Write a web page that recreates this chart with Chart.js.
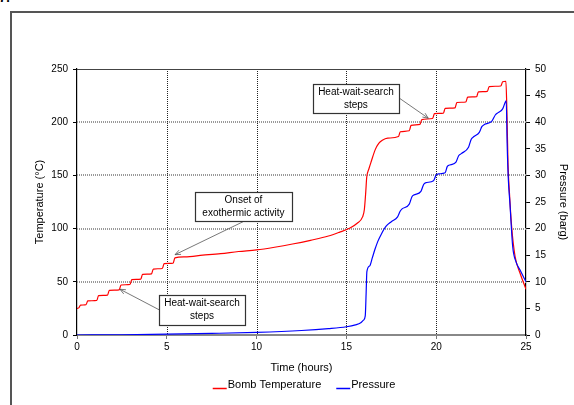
<!DOCTYPE html>
<html lang="en">
<head>
  <meta charset="UTF-8">
  <title>Bomb temperature and pressure</title>
  <script src="https://cdn.jsdelivr.net/npm/chart.js"></script>
  <style>
    body { margin: 0; background: #fff; font-family: "Liberation Sans", Arial, sans-serif; }
    .wrap { position: relative; width: 574px; height: 405px; overflow: hidden; }
    .frame { position: absolute; left: 10px; top: 11px; width: 620px; height: 420px; border-top: 2px solid #555; border-left: 2px solid #555; }
    .fig { position: absolute; left: -1px; top: -10px; font-size: 13px; font-weight: bold; }
    canvas { position: absolute; left: 0; top: 0; }
  </style>
</head>
<body>
<div class="wrap">
  <div class="frame"></div>
  <div class="fig">7.</div>
  <canvas id="bombChart" width="574" height="405"></canvas>
</div>

<script>
// time (hours) / bomb temperature (°C)
const tempHours = [0, 0.1, 0.2, 0.5, 0.6, 1.1, 1.2, 1.7, 1.8, 2.35, 2.45, 2.95, 3.05, 3.55, 3.65, 4.15, 4.25, 4.75, 4.85, 5.35, 5.45,
  6, 7, 8, 9, 10, 11, 12, 13, 14, 14.6, 15.2, 15.6, 15.9, 16.0, 16.08, 16.13, 16.25, 16.4, 16.6, 16.8, 17.0, 17.3, 17.9,
  18.0, 18.5, 18.6, 19.1, 19.2, 19.8, 19.9, 20.4, 20.5, 21.05, 21.15, 21.65, 21.75, 22.25, 22.35, 22.85, 22.95, 23.6, 23.7,
  23.88, 23.93, 24.0, 24.07, 24.2, 24.39, 24.67, 25];
const tempC = [25, 25.5, 28, 28.5, 32, 32.5, 37, 37.5, 42, 42.5, 47, 47.5, 52, 52.5, 57, 57.5, 62, 62.5, 67, 67.5, 72.5,
  73.5, 75, 76.5, 78.5, 80, 82.5, 85.5, 89, 93, 96.5, 100.5, 105, 111, 118, 135, 148, 156, 164, 174, 180, 183, 185, 186.5,
  191, 192, 197, 198, 202.5, 203.5, 208, 208.5, 213, 213.5, 218.5, 219, 223.5, 224, 228.5, 229, 233.5, 234, 238,
  238.5, 215, 160, 136, 102, 74, 58, 43];

// time (hours) / pressure (barg)
const presHours = [0, 2.5, 5, 7.5, 10, 12.5, 14, 15, 15.5, 15.8, 15.95, 16.05, 16.1, 16.14, 16.3, 16.45, 16.6, 16.75, 16.95,
  17.2, 17.5, 17.85, 18.0, 18.1, 18.5, 18.65, 18.75, 19.15, 19.3, 19.4, 19.85, 20.0, 20.15, 20.5, 20.62, 20.8, 21.1, 21.25,
  21.4, 21.8, 21.95, 22.1, 22.4, 22.55, 22.7, 23.1, 23.3, 23.45, 23.7, 23.85, 23.9, 23.95, 24.02, 24.1, 24.26, 24.45, 24.67, 25];
const presBarg = [0, 0.05, 0.15, 0.3, 0.5, 0.85, 1.2, 1.55, 1.9, 2.3, 2.8, 3.6, 8, 11.9, 13, 14.6, 16.2, 17.6, 19,
  20.4, 21.3, 22.2, 23.3, 23.7, 24.6, 26, 26.3, 27, 28.3, 28.6, 29, 30.1, 30.3, 30.5, 31.7, 32, 32.5, 33.7,
  34.1, 35.3, 36.8, 37.3, 38.1, 39.2, 39.6, 40.2, 41.4, 41.8, 42.5, 43.8, 44, 36, 29, 25, 16.6, 13.7, 12.2, 10];

const hourTicks = [0, 5, 10, 15, 20, 25];
const tempTicks = [0, 50, 100, 150, 200, 250];
const presTicks = [0, 5, 10, 15, 20, 25, 30, 35, 40, 45, 50];

// callouts: box centre in data units (hours, °C), arrow tip in data units
const notes = [
  { lines: ["Onset of", "exothermic activity"], at: [9.27, 121], w: 97, h: 29, from: "bottom", to: [5.46, 75.5] },
  { lines: ["Heat-wait-search", "steps"], at: [6.96, 23.5], w: 86, h: 30, from: "left", to: [2.39, 43] },
  { lines: ["Heat-wait-search", "steps"], at: [15.53, 222.5], w: 86, h: 29, from: "right", to: [19.56, 203.7] }
];

const FONT = '"Liberation Sans", Arial, sans-serif';

function pts(xs, ys) { return xs.map((x, i) => ({ x: x, y: ys[i] })); }

const gridLines = {
  id: "gridLines",
  beforeDatasetsDraw(chart) {
    const { ctx, chartArea: a, scales: { x, y } } = chart;
    ctx.save();
    ctx.setLineDash([1, 1]);
    ctx.lineWidth = 2;
    ctx.strokeStyle = "#999";
    tempTicks.forEach(v => {
      if (v === 0 || v === 250) return;
      const py = Math.round(y.getPixelForValue(v));
      ctx.beginPath(); ctx.moveTo(a.left, py); ctx.lineTo(a.right, py); ctx.stroke();
    });
    ctx.lineWidth = 1;
    ctx.strokeStyle = "#222";
    hourTicks.forEach(v => {
      if (v === 0 || v === 25) return;
      const px = Math.round(x.getPixelForValue(v)) + 0.5;
      ctx.beginPath(); ctx.moveTo(px, a.top); ctx.lineTo(px, a.bottom); ctx.stroke();
    });
    ctx.setLineDash([]);
    ctx.strokeStyle = "#444";
    ctx.lineWidth = 1.2;
    const top = Math.round(y.getPixelForValue(250)) + 0.5;
    ctx.beginPath(); ctx.moveTo(a.left, top); ctx.lineTo(a.right, top); ctx.stroke();
    ctx.restore();
  }
};

const callouts = {
  id: "callouts",
  afterDatasetsDraw(chart) {
    const { ctx, scales: { x, y } } = chart;
    ctx.save();
    notes.forEach(n => {
      const cx = x.getPixelForValue(n.at[0]), cy = y.getPixelForValue(n.at[1]);
      const l = Math.round(cx - n.w / 2) + 0.5, t = Math.round(cy - n.h / 2) + 0.5;
      let sx = cx, sy = cy;
      if (n.from === "bottom") sy = t + n.h;
      if (n.from === "left") sx = l;
      if (n.from === "right") sx = l + n.w;
      const tx = x.getPixelForValue(n.to[0]), ty = y.getPixelForValue(n.to[1]);
      // arrow
      ctx.strokeStyle = "#555";
      ctx.lineWidth = 0.8;
      ctx.beginPath(); ctx.moveTo(sx, sy); ctx.lineTo(tx, ty); ctx.stroke();
      const ang = Math.atan2(sy - ty, sx - tx);
      ctx.beginPath();
      ctx.moveTo(tx + 6 * Math.cos(ang + 0.4), ty + 6 * Math.sin(ang + 0.4));
      ctx.lineTo(tx, ty);
      ctx.lineTo(tx + 6 * Math.cos(ang - 0.4), ty + 6 * Math.sin(ang - 0.4));
      ctx.stroke();
      // box
      ctx.fillStyle = "#fff";
      ctx.fillRect(l, t, n.w, n.h);
      ctx.strokeStyle = "#333";
      ctx.lineWidth = 1.2;
      ctx.strokeRect(l, t, n.w, n.h);
      ctx.fillStyle = "#000";
      ctx.font = "10px " + FONT;
      ctx.textAlign = "center";
      ctx.textBaseline = "middle";
      ctx.fillText(n.lines[0], cx, cy - 6.5);
      ctx.fillText(n.lines[1], cx, cy + 6.5);
    });
    ctx.restore();
  }
};

const lineLegend = {
  id: "lineLegend",
  afterDraw(chart) {
    const { ctx } = chart;
    const sets = chart.data.datasets;
    ctx.save();
    ctx.font = "11px " + FONT;
    ctx.textBaseline = "middle";
    const widths = sets.map(d => ctx.measureText(d.label).width);
    const total = widths.reduce((s, w) => s + w + 15, 0) + 15;
    let px = 304 - total / 2;
    sets.forEach((d, i) => {
      ctx.strokeStyle = d.borderColor;
      ctx.lineWidth = 1.5;
      ctx.beginPath(); ctx.moveTo(px, 388.5); ctx.lineTo(px + 14, 388.5); ctx.stroke();
      ctx.fillStyle = "#000";
      ctx.fillText(d.label, px + 15, 385);
      px += 15 + widths[i] + 15;
    });
    ctx.restore();
  }
};

new Chart(document.getElementById("bombChart"), {
  type: "line",
  data: {
    datasets: [
      { label: "Bomb Temperature", data: pts(tempHours, tempC), yAxisID: "y", borderColor: "#ff0000",
        borderWidth: 1.2, pointRadius: 0, cubicInterpolationMode: "monotone", order: 1 },
      { label: "Pressure", data: pts(presHours, presBarg), yAxisID: "y1", borderColor: "#0000ff",
        borderWidth: 1.2, pointRadius: 0, cubicInterpolationMode: "monotone", order: 0 }
    ]
  },
  options: {
    responsive: false,
    animation: false,
    layout: { padding: { left: 0, right: 0, top: 69, bottom: 27 } },
    plugins: { legend: { display: false }, tooltip: { enabled: false } },
    scales: {
      x: {
        type: "linear", min: 0, max: 25,
        afterBuildTicks: s => { s.ticks = hourTicks.map(v => ({ value: v })); },
        afterFit: s => { s.height = 43; },
        ticks: { color: "#000", font: { family: FONT, size: 10 }, padding: 2, maxRotation: 0 },
        grid: { drawOnChartArea: false, tickLength: 4, tickColor: "#777" },
        border: { color: "#888", width: 2 },
        title: { display: true, text: "Time (hours)", color: "#000", font: { family: FONT, size: 11 }, padding: { bottom: 3.4, top: 0 } }
      },
      y: {
        position: "left", min: 0, max: 250,
        afterBuildTicks: s => { s.ticks = tempTicks.map(v => ({ value: v })); },
        afterFit: s => { s.width = 77; },
        ticks: { color: "#000", font: { family: FONT, size: 10 }, padding: 5 },
        grid: { drawOnChartArea: false, tickLength: 4, tickColor: "#000" },
        border: { color: "#000", width: 1.2 },
        title: { display: true, text: "Temperature (°C)", color: "#000", font: { family: FONT, size: 11 }, padding: { top: 33.4, bottom: 0 } }
      },
      y1: {
        position: "right", min: 0, max: 50,
        afterBuildTicks: s => { s.ticks = presTicks.map(v => ({ value: v })); },
        afterFit: s => { s.width = 48; },
        ticks: { color: "#000", font: { family: FONT, size: 10 }, padding: 5 },
        grid: { drawOnChartArea: false, tickLength: 4, tickColor: "#000" },
        border: { color: "#000", width: 1.2 },
        title: { display: true, text: "Pressure (barg)", color: "#000", font: { family: FONT, size: 11 }, padding: { top: 4.4, bottom: 0 } }
      }
    }
  },
  plugins: [gridLines, callouts, lineLegend]
});
</script>
</body>
</html>
